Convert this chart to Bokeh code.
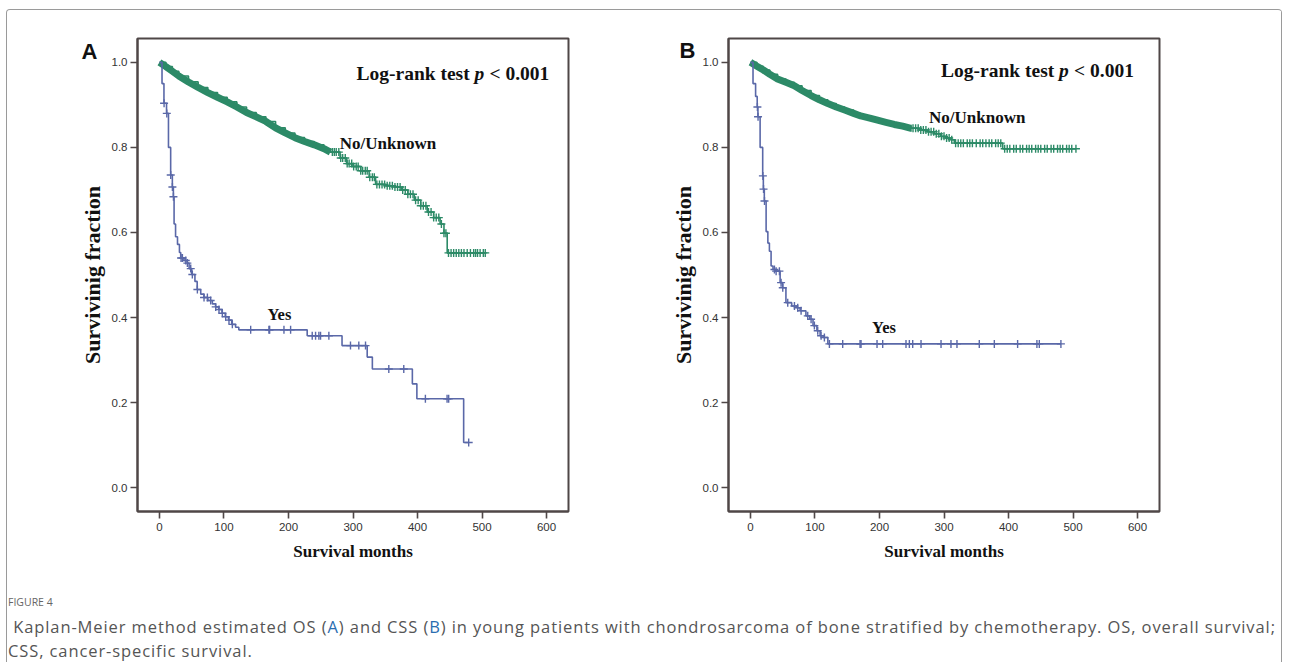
import numpy as np
from bokeh.plotting import figure
from bokeh.models import (Range1d, FixedTicker, PrintfTickFormatter, Label, Div, LinearAxis,
                          CustomJSTickFormatter)
from bokeh.layouts import row, column
from bokeh.embed import file_html
from bokeh.resources import INLINE

# ---------------- data ----------------
x_ticks = [0, 100, 200, 300, 400, 500, 600]
y_ticks = [0.0, 0.2, 0.4, 0.6, 0.8, 1.0]

# Panel A (OS) - No/Unknown
a_no_t = [0, 10, 20, 30, 45, 60, 75, 90, 105, 120, 135, 150, 165, 180, 195, 210, 225, 240,
          255, 265, 280, 290, 300, 312, 325, 335, 350, 365, 375, 385, 395, 405, 415, 425,
          435, 441, 446]
a_no_s = [1.0, 0.99, 0.979, 0.968, 0.954, 0.941, 0.929, 0.918, 0.907, 0.895, 0.882, 0.872,
          0.861, 0.846, 0.834, 0.823, 0.814, 0.806, 0.797, 0.789, 0.775, 0.762, 0.755, 0.745,
          0.730, 0.713, 0.710, 0.707, 0.700, 0.690, 0.676, 0.663, 0.648, 0.635, 0.620, 0.598,
          0.552]
a_no_cens = [268, 271, 274, 278, 281, 284, 288, 291, 294, 298, 301, 305, 308, 312, 315, 319,
             322, 326, 330, 333, 337, 341, 345, 349, 353, 357, 361, 365, 369, 373, 377, 381,
             385, 389, 393, 397, 401, 405, 409, 413, 417, 421, 425, 429, 433, 437, 441, 444,
             448, 452, 456, 460, 464, 468, 472, 477, 482, 487, 490, 493, 497, 502, 505]

# Panel A (OS) - Yes
a_yes_t = [0, 4, 7, 11, 14, 17.4, 20, 21.6, 22.7, 25, 28, 31, 33, 38, 43, 46, 50, 55, 58.5, 64,
           69, 75, 82, 87, 92, 97, 102, 107, 112, 118, 123, 229, 283, 322, 330, 392, 399, 471.5]
a_yes_s = [1.0, 0.95, 0.904, 0.880, 0.80, 0.735, 0.707, 0.684, 0.62, 0.59, 0.572, 0.553, 0.540,
           0.534, 0.528, 0.515, 0.501, 0.485, 0.466, 0.455, 0.447, 0.440, 0.432, 0.425, 0.419,
           0.410, 0.402, 0.394, 0.384, 0.377, 0.371, 0.357, 0.334, 0.307, 0.279, 0.244, 0.209,
           0.106]
a_yes_cens = [7.2, 11.4, 17.5, 20.1, 21.7, 33.5, 35.6, 40.8, 43.3, 48.5, 51, 58.8, 69.1, 74.3,
              79.4, 87.2, 92.3, 97.5, 102.7, 107.8, 113, 141.4, 169.7, 170.8, 193, 203.3, 236.8,
              242, 247.1, 249.7, 262.6, 296.1, 309, 319.4, 355.5, 378.7, 412.2, 445.8, 448.3,
              479.3]

# Panel B (CSS) - No/Unknown
b_no_t = [0, 10, 20, 30, 42, 55, 68, 80, 94, 107, 120, 133, 146, 160, 171, 185, 197, 210, 223,
          236, 249, 262, 275, 285, 295, 303, 311, 316, 391]
b_no_s = [1.0, 0.991, 0.982, 0.972, 0.961, 0.953, 0.945, 0.934, 0.922, 0.912, 0.903, 0.895,
          0.888, 0.880, 0.874, 0.869, 0.864, 0.859, 0.854, 0.850, 0.845, 0.841, 0.837, 0.832,
          0.826, 0.822, 0.818, 0.810, 0.797]
b_no_cens = [252, 256, 260, 264, 268, 272, 276, 280, 284, 288, 292, 296, 300, 304, 308, 312,
             318, 322, 326, 330, 336, 340, 344, 350, 356, 360, 365, 370, 374, 380, 384, 388,
             394, 398, 402, 408, 412, 418, 422, 428, 432, 436, 442, 446, 450, 456, 460, 466,
             470, 476, 480, 484, 490, 494, 498, 504.5]

# Panel B (CSS) - Yes
b_yes_t = [0, 4, 8, 10.5, 11.6, 15, 19, 20, 21.5, 24.3, 27, 29.4, 32, 35, 39, 46, 50, 55, 64,
           72, 77, 86, 92, 97, 103, 108, 113, 120]
b_yes_s = [1.0, 0.95, 0.92, 0.895, 0.872, 0.80, 0.733, 0.702, 0.674, 0.602, 0.575, 0.556,
           0.521, 0.513, 0.509, 0.482, 0.470, 0.435, 0.427, 0.423, 0.416, 0.404, 0.396, 0.381,
           0.369, 0.357, 0.353, 0.338]
b_yes_cens = [10.8, 11.8, 19.3, 20.3, 21.8, 37.2, 39.8, 44.9, 47.5, 50.1, 57.8, 68.2, 73.3,
              78.5, 88.8, 94, 99.1, 104.3, 109.5, 114.6, 122.4, 143, 169.9, 171.4, 196.2, 205,
              241.1, 246.3, 251.5, 264.4, 295.4, 310.8, 320.1, 354.7, 378, 414.1, 444, 447.7,
              481.2]

GREEN = "#2c8a67"
BLUE = "#5a68a8"
FRAME = "#4f4747"


def km_at(times, surv, t):
    times = np.asarray(times, float)
    surv = np.asarray(surv, float)
    idx = np.searchsorted(times, np.asarray(t, float), side="right") - 1
    return surv[idx]


def draw_curve(p, times, surv, cens, color, band_end=None, band_width=7):
    t_end = max(max(times), max(cens))
    xs = list(times) + [t_end]
    ys = list(surv) + [surv[-1]]
    p.step(x=xs, y=ys, mode="after", line_color=color, line_width=1.6)
    if band_end is not None:
        # the densely censored early stretch shows as a solid thick band
        bx = [t for t in times if t <= band_end] + [band_end]
        by = list(km_at(times, surv, bx))
        p.line(x=bx, y=by, line_color=color, line_width=band_width, line_join="round")
    cy = km_at(times, surv, cens)
    p.scatter(x=cens, y=cy, marker="cross", size=8, line_color=color, line_width=1.4)


def make_panel(letter, letter_y, letter_standoff, lr_xy, no_xy, yes_xy, width, borders, curves):
    bl, br, bt, bb = borders
    p = figure(width=width, height=576, x_range=Range1d(-34, 634), y_range=Range1d(-0.0561, 1.0561),
               output_backend="svg", toolbar_location=None,
               min_border_left=bl, min_border_right=br, min_border_top=bt, min_border_bottom=bb)
    p.xgrid.visible = False
    p.ygrid.visible = False
    p.outline_line_color = FRAME
    p.outline_line_width = 2
    p.background_fill_color = "white"
    p.border_fill_color = "white"

    p.xaxis.ticker = FixedTicker(ticks=x_ticks)
    p.yaxis.ticker = FixedTicker(ticks=y_ticks)
    p.yaxis.formatter = PrintfTickFormatter(format="%.1f")
    for ax in (p.xaxis[0], p.yaxis[0]):
        ax.axis_line_color = FRAME
        ax.axis_line_width = 2
        ax.major_tick_line_color = FRAME
        ax.major_tick_line_width = 1.6
        ax.major_tick_out = 7
        ax.major_tick_in = 0
        ax.minor_tick_out = 0
        ax.minor_tick_in = 0
        ax.major_label_text_font = "Liberation Sans"
        ax.major_label_text_font_size = "11.5px"
        ax.major_label_text_color = "#333333"
        ax.axis_label_text_font = "Liberation Serif"
        ax.axis_label_text_font_style = "bold"
        ax.axis_label_text_color = "#111111"
    p.xaxis.axis_label = "Survival months"
    p.xaxis.axis_label_text_font_size = "17px"
    p.xaxis.major_label_standoff = 4
    p.xaxis.axis_label_standoff = 8
    p.yaxis.axis_label = "Survivinig fraction"
    p.yaxis.axis_label_text_font_size = "22px"
    p.yaxis.major_label_standoff = 3
    p.yaxis.axis_label_standoff = 4

    # panel letter, drawn as the single label of an extra (line-less) left axis
    lax = LinearAxis(ticker=FixedTicker(ticks=[letter_y]),
                     formatter=CustomJSTickFormatter(code="return '%s';" % letter),
                     axis_line_color=None, major_tick_line_color=None,
                     minor_tick_line_color=None, major_tick_out=0, major_tick_in=0,
                     major_label_standoff=letter_standoff,
                     major_label_text_font="Liberation Sans",
                     major_label_text_font_style="bold", major_label_text_font_size="22px",
                     major_label_text_color="#111111")
    p.add_layout(lax, "left")

    for (times, surv, cens, color, band_end) in curves:
        draw_curve(p, times, surv, cens, color, band_end)

    fs = "19.5px"
    common = dict(text_font="Liberation Serif", text_baseline="middle", text_color="#111111")
    p.add_layout(Label(x=lr_xy[0], y=lr_xy[1], text="Log-rank test", text_font_style="bold",
                       text_font_size=fs, **common))
    p.add_layout(Label(x=lr_xy[0], y=lr_xy[1], x_offset=118, text="p",
                       text_font_style="bold italic", text_font_size=fs, **common))
    p.add_layout(Label(x=lr_xy[0], y=lr_xy[1], x_offset=133, text="< 0.001",
                       text_font_style="bold", text_font_size=fs, **common))
    p.add_layout(Label(x=no_xy[0], y=no_xy[1], text="No/Unknown", text_font_style="bold",
                       text_font_size="17px", **common))
    p.add_layout(Label(x=yes_xy[0], y=yes_xy[1], text="Yes", text_font_style="bold",
                       text_font_size="16.5px", **common))
    return p


pA = make_panel("A", 1.025, -21, (305.4, 0.973), (279.5, 0.809), (167.5, 0.407), 636,
                (130, 75, 28, 73),
                [(a_no_t, a_no_s, a_no_cens, GREEN, 265),
                 (a_yes_t, a_yes_s, a_yes_cens, BLUE, None)])
pB = make_panel("B", 1.029, -28, (295.4, 0.981), (276.8, 0.871), (188.6, 0.376), 638,
                (85, 122, 26, 75),
                [(b_no_t, b_no_s, b_no_cens, GREEN, 250),
                 (b_yes_t, b_yes_s, b_yes_cens, BLUE, None)])

caption_html = (
    "<div style=\"font-family:'Open Sans'; color:#555555; margin-left:-4px;\">"
    "<div style=\"font-size:10.5px; letter-spacing:0px; line-height:14px; margin-top:4px;"
    " color:#666666;\">FIGURE 4</div>"
    "<div style=\"font-size:16.5px; letter-spacing:0.9px; line-height:24px; margin-top:6px;"
    " white-space:nowrap;\">"
    "&nbsp;Kaplan-Meier method estimated OS (<span style='color:#2a6db0'>A</span>) and CSS "
    "(<span style='color:#2a6db0'>B</span>) in young patients with chondrosarcoma of bone "
    "stratified by chemotherapy. OS, overall survival;<br>CSS, cancer-specific survival.</div>"
    "</div>"
)
cap = Div(text=caption_html, width=1274, height=66)

layout = column(row(pA, pB), cap, width=1276,
                styles={"margin-left": "6px", "margin-top": "9px", "width": "1276px",
                        "border-top": "1px solid #9a9a9a", "border-left": "1px solid #9a9a9a",
                        "border-right": "1px solid #9a9a9a", "border-radius": "4px 4px 0 0"})

open("out.html", "w").write(file_html(layout, INLINE))
